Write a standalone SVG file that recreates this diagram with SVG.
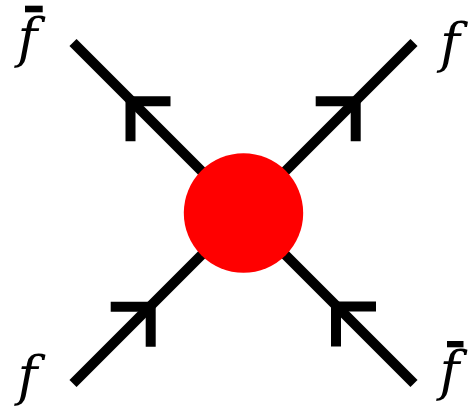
<svg xmlns="http://www.w3.org/2000/svg" xmlns:xlink="http://www.w3.org/1999/xlink" width="469" height="408" viewBox="0 0 469 408">
  <style>
    .leg { stroke: #000; stroke-width: 10; stroke-linecap: butt; fill: none; }
    .chev { stroke: #000; stroke-width: 10; stroke-linecap: butt; stroke-linejoin: miter; fill: none; }
    .lbl { font-family: "DejaVu Serif", "Liberation Serif", serif; font-style: italic; font-size: 54px; fill: #000; }
    .bar { fill: #000; }
  </style>
  <defs>
    <path id="chev" class="chev" d="M40,0 H0 V40"/>
  </defs>
  <rect width="469" height="408" fill="#fff"/>
  <g id="connectors">
    <line class="leg" x1="73" y1="42.5" x2="243.5" y2="213"/>
    <line class="leg" x1="414" y1="42.5" x2="243.5" y2="213"/>
    <line class="leg" x1="73" y1="383.5" x2="243.5" y2="213"/>
    <line class="leg" x1="414" y1="383.5" x2="243.5" y2="213"/>
    <use xlink:href="#chev" href="#chev" transform="translate(130.5,101.3)"/>
    <use xlink:href="#chev" href="#chev" transform="translate(355.7,101.3) rotate(90)"/>
    <use xlink:href="#chev" href="#chev" transform="translate(150.7,306.7) rotate(90)"/>
    <use xlink:href="#chev" href="#chev" transform="translate(336,306.5)"/>
  </g>
  <g id="vertex">
    <circle cx="243.5" cy="213" r="59.7" fill="#ff0000"/>
  </g>
  <g id="label-fbar-top-left">
    <text class="lbl" x="17.4" y="56.6">f</text>
    <rect class="bar" x="25" y="5.7" width="17.7" height="6.6"/>
  </g>
  <g id="label-f-top-right">
    <text class="lbl" x="439.9" y="61.6">f</text>
  </g>
  <g id="label-f-bottom-left">
    <text class="lbl" x="17.4" y="394.6">f</text>
  </g>
  <g id="label-fbar-bottom-right">
    <text class="lbl" x="439.4" y="389.6">f</text>
    <rect class="bar" x="447" y="341" width="16.5" height="6.3"/>
  </g>
</svg>
